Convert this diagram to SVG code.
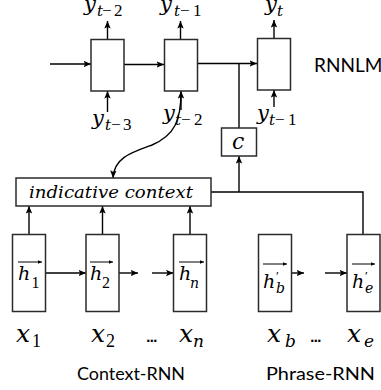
<svg xmlns="http://www.w3.org/2000/svg" width="381" height="390" viewBox="0 0 381 390">
  <defs>
    <marker id="ah" markerUnits="userSpaceOnUse" markerWidth="8" markerHeight="7" refX="7.5" refY="3.2" orient="auto">
      <path d="M0,0 L7.5,3.2 L0,6.4 L1.6,3.2 z" fill="#000"/>
    </marker>
    <marker id="vh" markerUnits="userSpaceOnUse" markerWidth="5" markerHeight="5" refX="4.5" refY="2" orient="auto">
      <path d="M0,0 L4.5,2 L0,4 z" fill="#000"/>
    </marker>
  </defs>
  <style>
    .box{fill:#fff;stroke:#2b2b2b;stroke-width:1.5}
    .ln{fill:none;stroke:#000;stroke-width:1.4}
    .arr{marker-end:url(#ah)}
    .vec{fill:none;stroke:#000;stroke-width:1;marker-end:url(#vh)}
    .m{font-family:"DejaVu Serif","Liberation Serif",serif;font-style:italic;fill:#000}
    .up{font-family:"Liberation Serif","Times New Roman",serif;font-style:normal}
    .dots{font-family:"DejaVu Sans",sans-serif;font-weight:bold;font-size:12px;letter-spacing:-1px;fill:#000}
    .s{font-family:Lato,"Liberation Sans",sans-serif;fill:#000}
  </style>

  <!-- connectors -->
  <g id="connectors">
    <!-- RNNLM chain -->
    <line class="ln arr" x1="50" y1="64" x2="91" y2="64"/>
    <line class="ln arr" x1="124" y1="64.5" x2="164" y2="64.5"/>
    <line class="ln arr" x1="197" y1="63.5" x2="257" y2="63.5"/>
    <!-- outputs -->
    <line class="ln arr" x1="107.5" y1="39" x2="107.5" y2="21"/>
    <line class="ln arr" x1="180.5" y1="39" x2="180.5" y2="21"/>
    <line class="ln arr" x1="274" y1="38" x2="274" y2="20"/>
    <!-- inputs -->
    <line class="ln arr" x1="107.5" y1="112" x2="107.5" y2="91"/>
    <line class="ln arr" x1="181" y1="110" x2="181" y2="91"/>
    <line class="ln arr" x1="274" y1="107" x2="274" y2="90"/>
    <!-- context vector into the last RNNLM step -->
    <line class="ln" x1="239" y1="128" x2="239" y2="63.5"/>
    <!-- hidden state routed to indicative context -->
    <path class="ln arr" d="M181,92 C181,120 175,135 152,145 C130,153 114,158 113,178"/>
    <!-- indicative context + phrase end to c -->
    <polyline class="ln" points="211,192 363,192 363,234"/>
    <line class="ln arr" x1="239" y1="192" x2="239" y2="156"/>
    <!-- context-RNN states up -->
    <line class="ln arr" x1="29" y1="234" x2="29" y2="206"/>
    <line class="ln arr" x1="102.5" y1="234" x2="102.5" y2="206"/>
    <line class="ln arr" x1="190" y1="234" x2="190" y2="206"/>
    <!-- recurrent links -->
    <line class="ln arr" x1="45.5" y1="273" x2="86" y2="273"/>
    <line class="ln arr" x1="119" y1="273" x2="138" y2="273"/>
    <line class="ln arr" x1="152" y1="273" x2="173.5" y2="273"/>
    <line class="ln arr" x1="291.5" y1="273" x2="304" y2="273"/>
    <line class="ln arr" x1="325" y1="273" x2="347" y2="273"/>
  </g>

  <!-- RNNLM cells -->
  <g id="rnnlm1"><rect class="box" x="91" y="39.5" width="33" height="51.5"/></g>
  <g id="rnnlm2"><rect class="box" x="164.5" y="39.5" width="33" height="51.5"/></g>
  <g id="rnnlm3"><rect class="box" x="257.5" y="38.5" width="33" height="51.5"/></g>

  <g id="c-node">
    <rect class="box" x="221.5" y="128" width="35" height="28"/>
    <text class="m" x="232" y="149" font-size="22">c</text>
  </g>

  <g id="indicative-context">
    <rect class="box" x="16" y="178" width="195" height="28"/>
    <text class="m" x="29" y="198" font-size="17" textLength="164" lengthAdjust="spacingAndGlyphs">indicative context</text>
  </g>

  <!-- context-RNN cells -->
  <g id="h1">
    <rect class="box" x="12.5" y="234.5" width="33" height="77"/>
    <line class="vec" x1="18" y1="262" x2="42" y2="262"/>
    <text class="m" font-size="19"><tspan x="18" y="280">h</tspan><tspan class="up" x="31.5" y="288" font-size="16">1</tspan></text>
  </g>
  <g id="h2">
    <rect class="box" x="86" y="234.5" width="33" height="77"/>
    <line class="vec" x1="90" y1="262" x2="113" y2="262"/>
    <text class="m" font-size="19"><tspan x="90" y="280">h</tspan><tspan class="up" x="102" y="288" font-size="16">2</tspan></text>
  </g>
  <g id="hn">
    <rect class="box" x="173.5" y="234.5" width="33" height="77"/>
    <line class="vec" x1="179" y1="262" x2="204" y2="262"/>
    <text class="m" font-size="19"><tspan x="179" y="280">h</tspan><tspan x="190" y="288" font-size="14">n</tspan></text>
  </g>

  <!-- phrase-RNN cells -->
  <g id="hb">
    <rect class="box" x="258.5" y="234.5" width="33" height="77"/>
    <line class="vec" x1="263" y1="264" x2="287" y2="264"/>
    <text class="m" font-size="19"><tspan x="263" y="288">h</tspan><tspan class="up" x="276" y="280" font-size="13">′</tspan><tspan x="276" y="293" font-size="14">b</tspan></text>
  </g>
  <g id="he">
    <rect class="box" x="347" y="234.5" width="33" height="77"/>
    <line class="vec" x1="352" y1="264" x2="375" y2="264"/>
    <text class="m" font-size="19"><tspan x="352" y="288">h</tspan><tspan class="up" x="365" y="280" font-size="13">′</tspan><tspan x="365" y="293" font-size="14">e</tspan></text>
  </g>

  <!-- output / input labels -->
  <g id="labels-y">
    <text class="m" font-size="21"><tspan x="84" y="11">y</tspan><tspan x="97" y="16" font-size="15">t</tspan><tspan class="up" x="102" y="16" font-size="17">−</tspan><tspan class="up" x="114" y="16" font-size="17">2</tspan></text>
    <text class="m" font-size="21"><tspan x="160" y="11">y</tspan><tspan x="174" y="16" font-size="15">t</tspan><tspan class="up" x="180" y="16" font-size="17">−</tspan><tspan class="up" x="193" y="16" font-size="17">1</tspan></text>
    <text class="m" font-size="21"><tspan x="265" y="11">y</tspan><tspan x="277" y="16" font-size="15">t</tspan></text>
    <text class="m" font-size="21"><tspan x="92" y="125">y</tspan><tspan x="105" y="130" font-size="15">t</tspan><tspan class="up" x="111" y="130" font-size="17">−</tspan><tspan class="up" x="123" y="130" font-size="17">3</tspan></text>
    <text class="m" font-size="21"><tspan x="163" y="120">y</tspan><tspan x="175" y="125" font-size="15">t</tspan><tspan class="up" x="181" y="125" font-size="17">−</tspan><tspan class="up" x="194" y="125" font-size="17">2</tspan></text>
    <text class="m" font-size="21"><tspan x="257" y="120">y</tspan><tspan x="269" y="125" font-size="15">t</tspan><tspan class="up" x="275" y="125" font-size="17">−</tspan><tspan class="up" x="288" y="125" font-size="17">1</tspan></text>
  </g>

  <!-- source word labels -->
  <g id="labels-x">
    <text class="m" font-size="25"><tspan x="16" y="342">x</tspan><tspan class="up" x="32" y="347" font-size="18">1</tspan></text>
    <text class="m" font-size="25"><tspan x="91" y="342">x</tspan><tspan class="up" x="106" y="347" font-size="18">2</tspan></text>
    <text class="dots" x="146" y="342">...</text>
    <text class="m" font-size="25"><tspan x="179" y="342">x</tspan><tspan x="193" y="347" font-size="17">n</tspan></text>
    <text class="m" font-size="25"><tspan x="267" y="342">x</tspan><tspan x="285" y="347" font-size="17">b</tspan></text>
    <text class="dots" x="310" y="342">...</text>
    <text class="m" font-size="25"><tspan x="347" y="342">x</tspan><tspan x="364" y="347" font-size="17">e</tspan></text>
  </g>

  <g id="captions" class="s">
    <text x="314" y="72" font-size="19">RNNLM</text>
    <text x="77" y="380" font-size="18" textLength="108" lengthAdjust="spacingAndGlyphs">Context-RNN</text>
    <text x="266" y="380" font-size="18" textLength="109" lengthAdjust="spacingAndGlyphs">Phrase-RNN</text>
  </g>
</svg>
